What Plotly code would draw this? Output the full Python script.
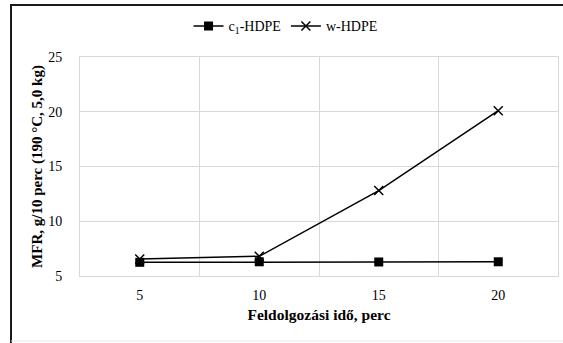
import plotly.graph_objects as go

categories = ["5", "10", "15", "20"]
c1_hdpe = [6.25, 6.3, 6.28, 6.3]
w_hdpe = [6.55, 6.8, 12.8, 20.1]
y_ticks = [5, 10, 15, 20, 25]

FONT = "Liberation Serif"

fig = go.Figure()
fig.add_trace(go.Scatter(
    x=categories, y=c1_hdpe, mode="lines+markers", name="c<sub>1</sub>-HDPE",
    line=dict(color="black", width=1.5),
    marker=dict(symbol="square", size=9, color="black"),
))
fig.add_trace(go.Scatter(
    x=categories, y=w_hdpe, mode="lines+markers", name="w-HDPE",
    line=dict(color="black", width=1.5),
    marker=dict(symbol="x-thin", size=9, color="black", line=dict(color="black", width=1.5)),
))

# outer frame (as in the original figure)
L, R, T, B = 80, 558, 57, 276
W, H = R - L, B - T
def px(x):
    return (x - L) / W
def py(y):
    return (B - y) / H

shapes = [
    dict(type="line", xref="paper", yref="paper", x0=px(10), x1=px(563), y0=py(5), y1=py(5),
         line=dict(color="#1a1a1a", width=2)),
    dict(type="line", xref="paper", yref="paper", x0=px(11), x1=px(11), y0=py(5), y1=py(343),
         line=dict(color="#1a1a1a", width=2)),
    dict(type="line", xref="paper", yref="paper", x0=px(11), x1=px(563), y0=py(341), y1=py(341),
         line=dict(color="#e6e6e6", width=1)),
]

fig.update_layout(
    width=563, height=343,
    margin=dict(l=L, r=563 - R, t=T, b=343 - B, autoexpand=False),
    paper_bgcolor="white", plot_bgcolor="white",
    font=dict(family=FONT, size=14, color="black"),
    shapes=shapes,
    showlegend=True,
    legend=dict(orientation="h", x=0.43, xanchor="center", y=1.14, yanchor="middle",
                font=dict(family=FONT, size=14), itemwidth=30, bgcolor="rgba(0,0,0,0)"),
    xaxis=dict(
        type="category", tickson="boundaries", range=[-0.5, 3.5], showgrid=True,
        gridcolor="#d9d9d9", gridwidth=1,
        ticks="", showline=True, linecolor="#d9d9d9", mirror=True, zeroline=False,
        ticklabelstandoff=6, automargin=False,
        tickfont=dict(family=FONT, size=14),
        title=dict(text="<b>Feldolgozási idő, perc</b>", font=dict(family=FONT, size=15.5), standoff=7),
    ),
    yaxis=dict(
        range=[5, 25], tickvals=y_ticks, showgrid=True, gridcolor="#d9d9d9", gridwidth=1,
        ticks="", showline=True, linecolor="#d9d9d9", mirror=True, zeroline=False,
        ticklabelstandoff=14, automargin=False,
        tickfont=dict(family=FONT, size=14),
        title=dict(text="<b>MFR, g/10 perc (190 °C, 5,0 kg)</b>", font=dict(family=FONT, size=15), standoff=1),
    ),
)

fig.write_html("out.html")
